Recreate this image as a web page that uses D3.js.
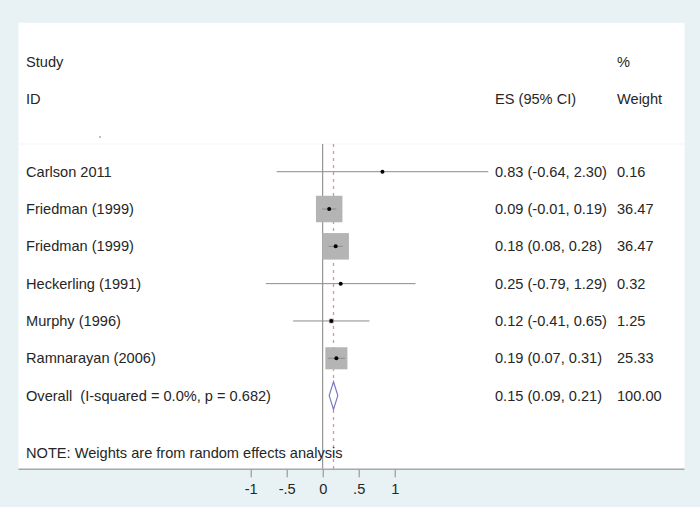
<!DOCTYPE html>
<html><head><meta charset="utf-8">
<script src="https://cdn.jsdelivr.net/npm/d3@7"></script>
<style>
html,body{margin:0;padding:0;background:#e8f1f3;}
svg{display:block;font-family:"Liberation Sans",Arial,Helvetica,sans-serif;}
text{white-space:pre;}
</style></head>
<body><svg id="c" width="700" height="507"></svg>
<script>
const studies = ["Carlson 2011","Friedman (1999)","Friedman (1999)","Heckerling (1991)","Murphy (1996)","Ramnarayan (2006)"];
const es = [0.83,0.09,0.18,0.25,0.12,0.19];
const lo = [-0.64,-0.01,0.08,-0.79,-0.41,0.07];
const hi = [2.30,0.19,0.28,1.29,0.65,0.31];
const weights = [0.16,36.47,36.47,0.32,1.25,25.33];
const overallLabel = "Overall  (I-squared = 0.0%, p = 0.682)";
const overall = [0.15,0.09,0.21];
const overallWeight = "100.00";
const tickValues = [-1,-0.5,0,0.5,1];
const tickLabels = ["-1","-.5","0",".5","1"];
const note = "NOTE: Weights are from random effects analysis";

const svg = d3.select("#c");
const loc = d3.formatLocale({decimal:".",thousands:",",grouping:[3],currency:["",""],minus:"-"});
const fmt = loc.format(".2f");
const x = d3.scaleLinear().domain([-1,1]).range([250.7,394.7]);
const y = d3.scaleLinear().domain([0,6]).range([171.7,395.6]);
const size = d3.scaleSqrt().domain([0,36.47]).range([0,26.5]);
const FS = 14.6;

// background panel
svg.append("rect").attr("x",0).attr("y",0).attr("width",700).attr("height",507).attr("fill","#e8f1f3");
svg.append("rect").attr("x",18.5).attr("y",22.7).attr("width",666).attr("height",446.6).attr("fill","#ffffff");
svg.append("line").attr("x1",18.5).attr("x2",684.5).attr("y1",144).attr("y2",144).attr("stroke","#f5f5f5");
svg.append("circle").attr("cx",100).attr("cy",137).attr("r",1).attr("fill","#aaa");

const txt = (t,xx,yy,anchor)=>svg.append("text").attr("x",xx).attr("y",yy).attr("dy","0.35em")
  .attr("font-size",FS).attr("fill","#262626").attr("text-anchor",anchor||"start").text(t);

const xL = 26, xES = 495, xW = 617;
// headers
txt("Study",xL,62); txt("ID",xL,99.3);
txt("ES (95% CI)",xES,99.3); txt("%",xW,62); txt("Weight",xW,99.3);

// reference lines
const yTop = 144, yBot = 469.3;
svg.append("line").attr("x1",x(0)).attr("x2",x(0)).attr("y1",yTop).attr("y2",yBot).attr("stroke","#808080").attr("stroke-width",1);
svg.append("line").attr("x1",x(overall[0])).attr("x2",x(overall[0])).attr("y1",yTop).attr("y2",yBot)
  .attr("stroke","#d893a4").attr("stroke-width",1.3).attr("stroke-dasharray","3,4");

// studies
studies.forEach((s,i)=>{
  const cy = y(i), sz = size(weights[i]);
  svg.append("rect").attr("x",x(es[i])-sz/2).attr("y",cy-sz/2).attr("width",sz).attr("height",sz).attr("fill","#b4b4b4");
  svg.append("line").attr("x1",x(lo[i])).attr("x2",x(hi[i])).attr("y1",cy).attr("y2",cy).attr("stroke","#8c8c8c").attr("stroke-width",1);
  svg.append("circle").attr("cx",x(es[i])).attr("cy",cy).attr("r",2).attr("fill","#000");
  txt(s,xL,cy);
  txt(`${fmt(es[i])} (${fmt(lo[i])}, ${fmt(hi[i])})`,xES,cy);
  txt(fmt(weights[i]),xW,cy);
});

// overall
const oy = y(6);
const dh = 13.8;
svg.append("path").attr("d",`M${x(overall[1])},${oy}L${x(overall[0])},${oy-dh}L${x(overall[2])},${oy}L${x(overall[0])},${oy+dh}Z`)
  .attr("fill","#fff").attr("stroke","#7b78c0").attr("stroke-width",1.2);
txt(overallLabel,xL,oy);
txt(`${fmt(overall[0])} (${fmt(overall[1])}, ${fmt(overall[2])})`,xES,oy);
txt(overallWeight,xW,oy);

txt(note,xL,453);

// axis
const ax = svg.append("g").attr("transform",`translate(0,${yBot})`)
  .call(d3.axisBottom(x).tickValues(tickValues).tickFormat((d,i)=>tickLabels[i]).tickSize(8).tickPadding(6));
ax.select(".domain").remove();
ax.selectAll(".tick line").attr("stroke","#888");
ax.selectAll(".tick text").attr("font-size",FS).attr("fill","#262626").attr("font-family","Liberation Sans, Arial, sans-serif");
svg.append("line").attr("x1",18.5).attr("x2",684.5).attr("y1",yBot).attr("y2",yBot).attr("stroke","#a8a8a8").attr("stroke-width",1.5);
</script></body></html>
